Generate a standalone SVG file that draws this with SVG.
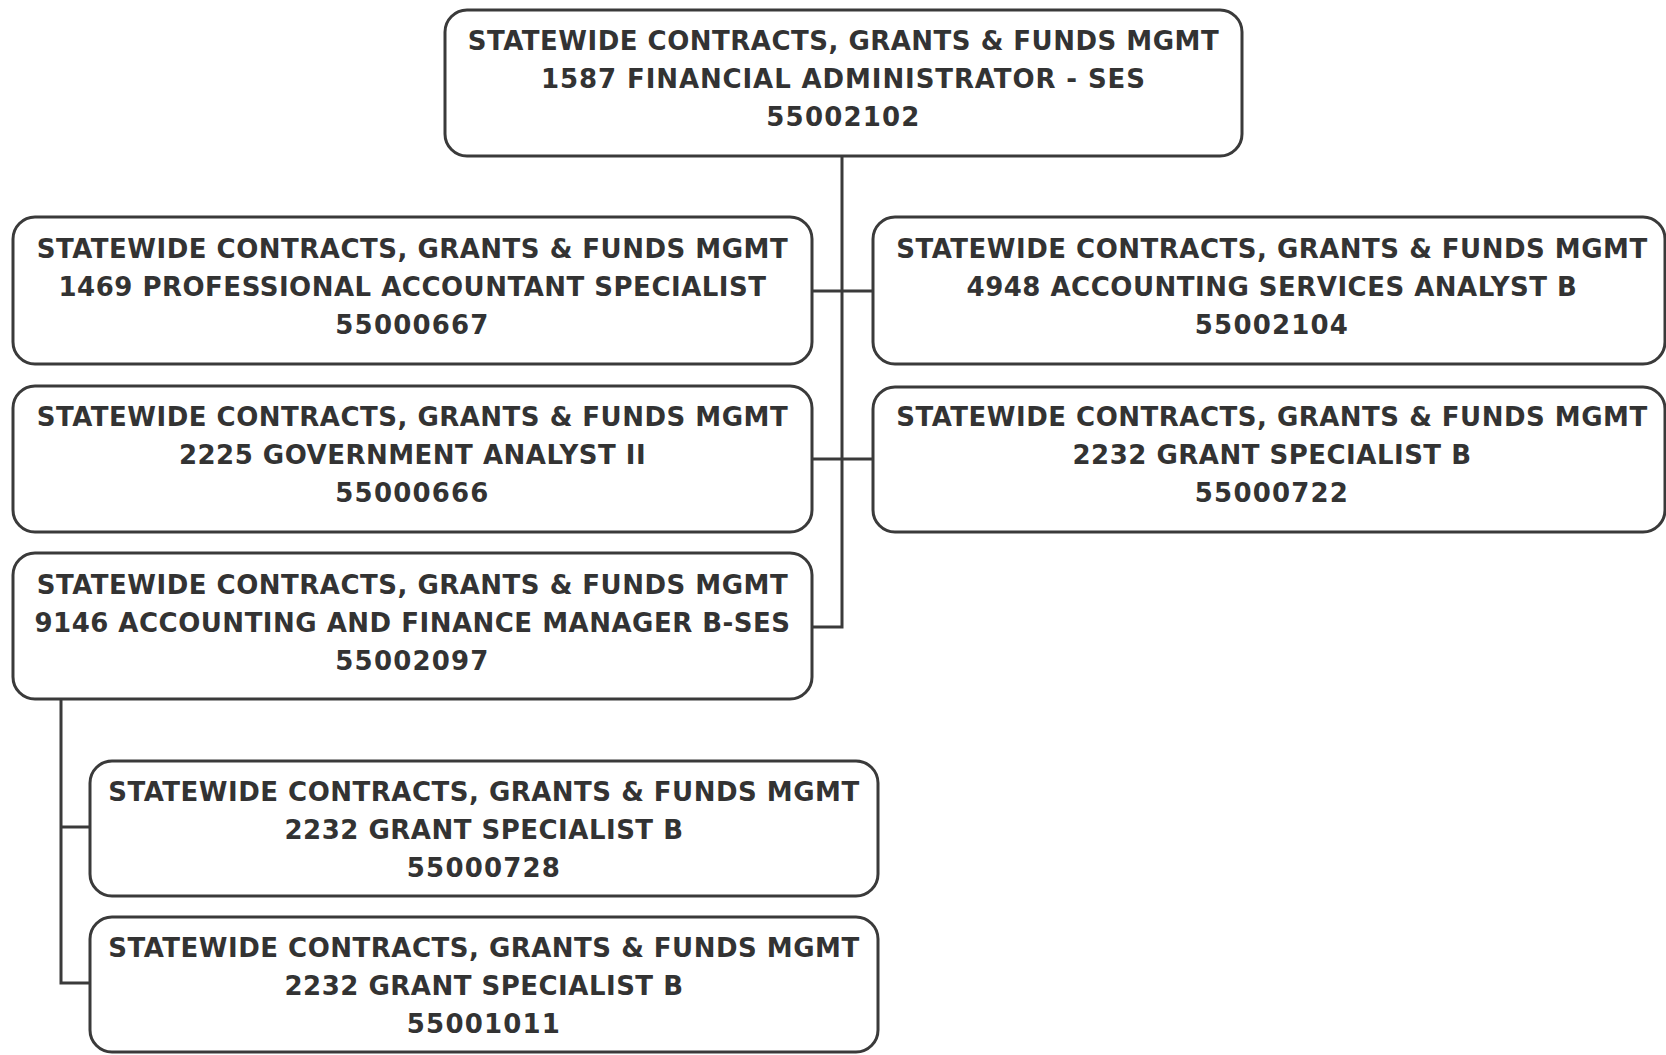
<svg xmlns="http://www.w3.org/2000/svg" width="1666" height="1055" viewBox="0 0 1666 1055">
<style>
.box{fill:#fff;stroke:#3a3a3a;stroke-width:3}
.t{font-family:"DejaVu Sans",Verdana,sans-serif;font-weight:bold;font-size:26px;letter-spacing:0.5px;fill:#333;text-anchor:middle}
.t.n{letter-spacing:1.2px}
.t.w{letter-spacing:0.9px}
.c{fill:none;stroke:#3a3a3a;stroke-width:3}
</style>
<rect width="1666" height="1055" fill="#fff"/>
<g id="connectors">
<path class="c" d="M842 157 V627 H812"/>
<path class="c" d="M812 291 H873"/>
<path class="c" d="M812 459 H873"/>
<path class="c" d="M61 699 V983 H90"/>
<path class="c" d="M61 827 H90"/>
</g>
<g id="n1">
<rect class="box" x="445" y="10" width="797" height="146" rx="22"/>
<text class="t" x="843.5" y="50">STATEWIDE CONTRACTS, GRANTS &amp; FUNDS MGMT</text>
<text class="t w" x="843.5" y="88">1587 FINANCIAL ADMINISTRATOR - SES</text>
<text class="t n" x="843.5" y="126">55002102</text>
</g>
<g id="n2">
<rect class="box" x="13" y="217" width="799" height="147" rx="22"/>
<text class="t" x="412.5" y="258">STATEWIDE CONTRACTS, GRANTS &amp; FUNDS MGMT</text>
<text class="t" x="412.5" y="296">1469 PROFESSIONAL ACCOUNTANT SPECIALIST</text>
<text class="t n" x="412.5" y="334">55000667</text>
</g>
<g id="n3">
<rect class="box" x="873" y="217" width="792" height="147" rx="22"/>
<text class="t" x="1272" y="258">STATEWIDE CONTRACTS, GRANTS &amp; FUNDS MGMT</text>
<text class="t" x="1272" y="296">4948 ACCOUNTING SERVICES ANALYST B</text>
<text class="t n" x="1272" y="334">55002104</text>
</g>
<g id="n4">
<rect class="box" x="13" y="386" width="799" height="146" rx="22"/>
<text class="t" x="412.5" y="426">STATEWIDE CONTRACTS, GRANTS &amp; FUNDS MGMT</text>
<text class="t" x="412.5" y="464">2225 GOVERNMENT ANALYST II</text>
<text class="t n" x="412.5" y="502">55000666</text>
</g>
<g id="n5">
<rect class="box" x="873" y="387" width="792" height="145" rx="22"/>
<text class="t" x="1272" y="426">STATEWIDE CONTRACTS, GRANTS &amp; FUNDS MGMT</text>
<text class="t" x="1272" y="464">2232 GRANT SPECIALIST B</text>
<text class="t n" x="1272" y="502">55000722</text>
</g>
<g id="n6">
<rect class="box" x="13" y="553" width="799" height="146" rx="22"/>
<text class="t" x="412.5" y="594">STATEWIDE CONTRACTS, GRANTS &amp; FUNDS MGMT</text>
<text class="t" x="412.5" y="632">9146 ACCOUNTING AND FINANCE MANAGER B-SES</text>
<text class="t n" x="412.5" y="670">55002097</text>
</g>
<g id="n7">
<rect class="box" x="90" y="761" width="788" height="135" rx="22"/>
<text class="t" x="484" y="801">STATEWIDE CONTRACTS, GRANTS &amp; FUNDS MGMT</text>
<text class="t" x="484" y="839">2232 GRANT SPECIALIST B</text>
<text class="t n" x="484" y="877">55000728</text>
</g>
<g id="n8">
<rect class="box" x="90" y="917" width="788" height="135" rx="22"/>
<text class="t" x="484" y="957">STATEWIDE CONTRACTS, GRANTS &amp; FUNDS MGMT</text>
<text class="t" x="484" y="995">2232 GRANT SPECIALIST B</text>
<text class="t n" x="484" y="1033">55001011</text>
</g>
</svg>
